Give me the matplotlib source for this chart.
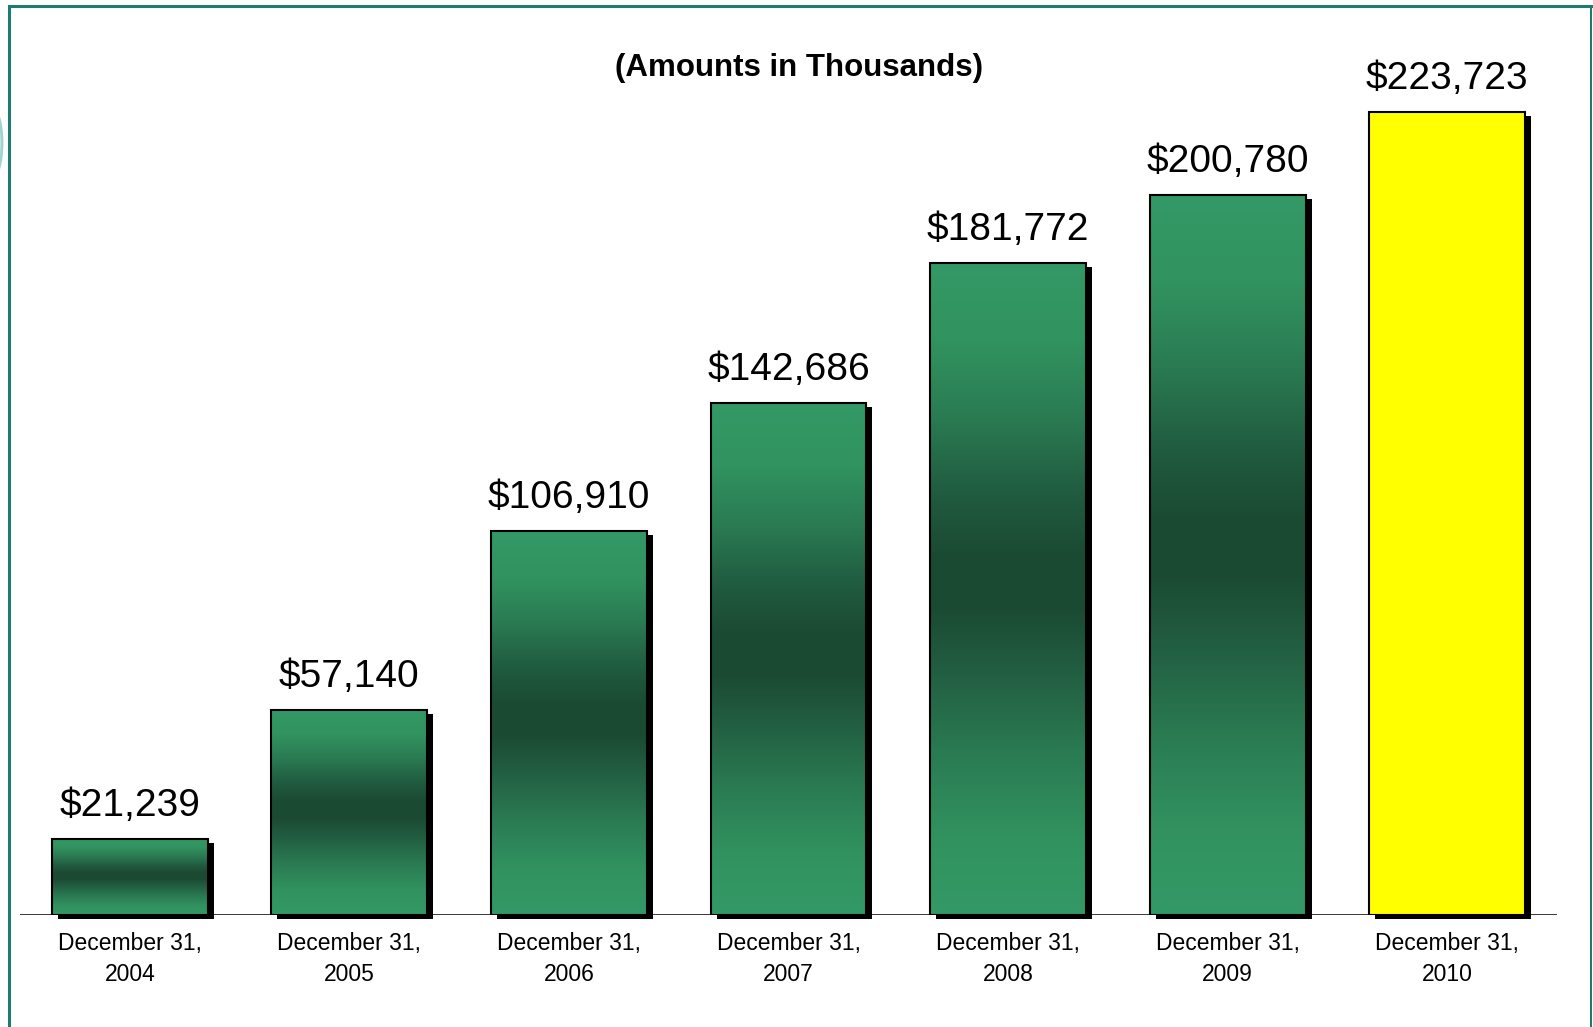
import numpy as np
import matplotlib
matplotlib.use("Agg")
import matplotlib.pyplot as plt
from matplotlib.colors import LinearSegmentedColormap
from matplotlib.patches import Rectangle, Ellipse
from matplotlib.lines import Line2D
import matplotlib.transforms as mtransforms

# ---- data ----
years = ["2004", "2005", "2006", "2007", "2008", "2009", "2010"]
categories = ["December 31,\n" + y for y in years]
values = [21239, 57140, 106910, 142686, 181772, 200780, 223723]
value_labels = ["$21,239", "$57,140", "$106,910", "$142,686", "$181,772", "$200,780", "$223,723"]
title = "(Amounts in Thousands)"

plt.rcParams['font.family'] = ['Liberation Sans', 'DejaVu Sans']

W, H = 1593, 1027
fig = plt.figure(figsize=(W / 100, H / 100), dpi=100)
fig.patch.set_facecolor("white")

ax = fig.add_axes([20 / W, 112 / H, (1557 - 20) / W, 897 / H])
ax.set_xlim(-0.5, 6.5)
ax.set_ylim(0, 250000)
for s in ax.spines.values():
    s.set_visible(False)
ax.set_yticks([])

green_cmap = LinearSegmentedColormap.from_list(
    "g", [(0.0, "#339966"), (0.12, "#31925f"), (0.25, "#2a7a52"), (0.37, "#225f42"),
          (0.47, "#1b4a33"), (0.55, "#1b4a33"), (0.64, "#205a3f"), (0.76, "#2a7a52"),
          (0.88, "#31935f"), (1.0, "#339966")])

width = 0.71
x = np.arange(len(values))
shadow_tr = ax.transData + mtransforms.ScaledTranslation(6 / 100, -4 / 100, fig.dpi_scale_trans)

grad = np.linspace(0, 1, 256).reshape(-1, 1)
for i, v in enumerate(values):
    left = x[i] - width / 2
    # shadow
    sh = Rectangle((left, 0), width, v, facecolor="black", edgecolor="none",
                   transform=shadow_tr, zorder=1, clip_on=False)
    ax.add_patch(sh)
    rect = Rectangle((left, 0), width, v, facecolor="#ffff00" if i == len(values) - 1 else "none",
                     edgecolor="black", linewidth=1.5, zorder=3)
    ax.add_patch(rect)
    if i < len(values) - 1:
        im = ax.imshow(grad, cmap=green_cmap, aspect="auto", origin="lower",
                       extent=(left, left + width, 0, v), zorder=2,
                       interpolation="bilinear")
        clip = Rectangle((left, 0), width, v, transform=ax.transData, facecolor="none")
        im.set_clip_path(clip)
    ax.annotate(value_labels[i], xy=(x[i], v), xytext=(0, 16.5), textcoords="offset points",
                ha="center", va="baseline", fontsize=28, color="black", zorder=5)

ax.set_xlim(-0.5, 6.5)
ax.set_ylim(0, 250000)
ax.axhline(0, color="black", linewidth=1.8, zorder=4)

ax.set_xticks(x)
ax.set_xticklabels(categories, fontsize=16.5, linespacing=1.45)
ax.tick_params(axis="x", length=0, pad=12)

fig.text(799 / W, 1 - 68 / H, title, ha="center", va="center",
         fontsize=22.5, fontweight="bold")

# frame border (teal)
bc = "#1f7a74"
fig.add_artist(Line2D([9 / W, 9 / W], [0, 1 - 6 / H], color=bc, lw=2.2, transform=fig.transFigure))
fig.add_artist(Line2D([9 / W, 1591 / W], [1 - 6 / H, 1 - 6 / H], color=bc, lw=2.2, transform=fig.transFigure))
fig.add_artist(Line2D([1591 / W, 1591 / W], [0, 1 - 6 / H], color=bc, lw=1.5, transform=fig.transFigure))
# faint decorative arc at left edge
fig.add_artist(Ellipse((-8 / W, 1 - 143 / H), 20 / W, 70 / H, transform=fig.transFigure,
                       facecolor="#d6eeec", edgecolor="#9fd3cf", lw=2))

fig.savefig("out.png", dpi=100)
